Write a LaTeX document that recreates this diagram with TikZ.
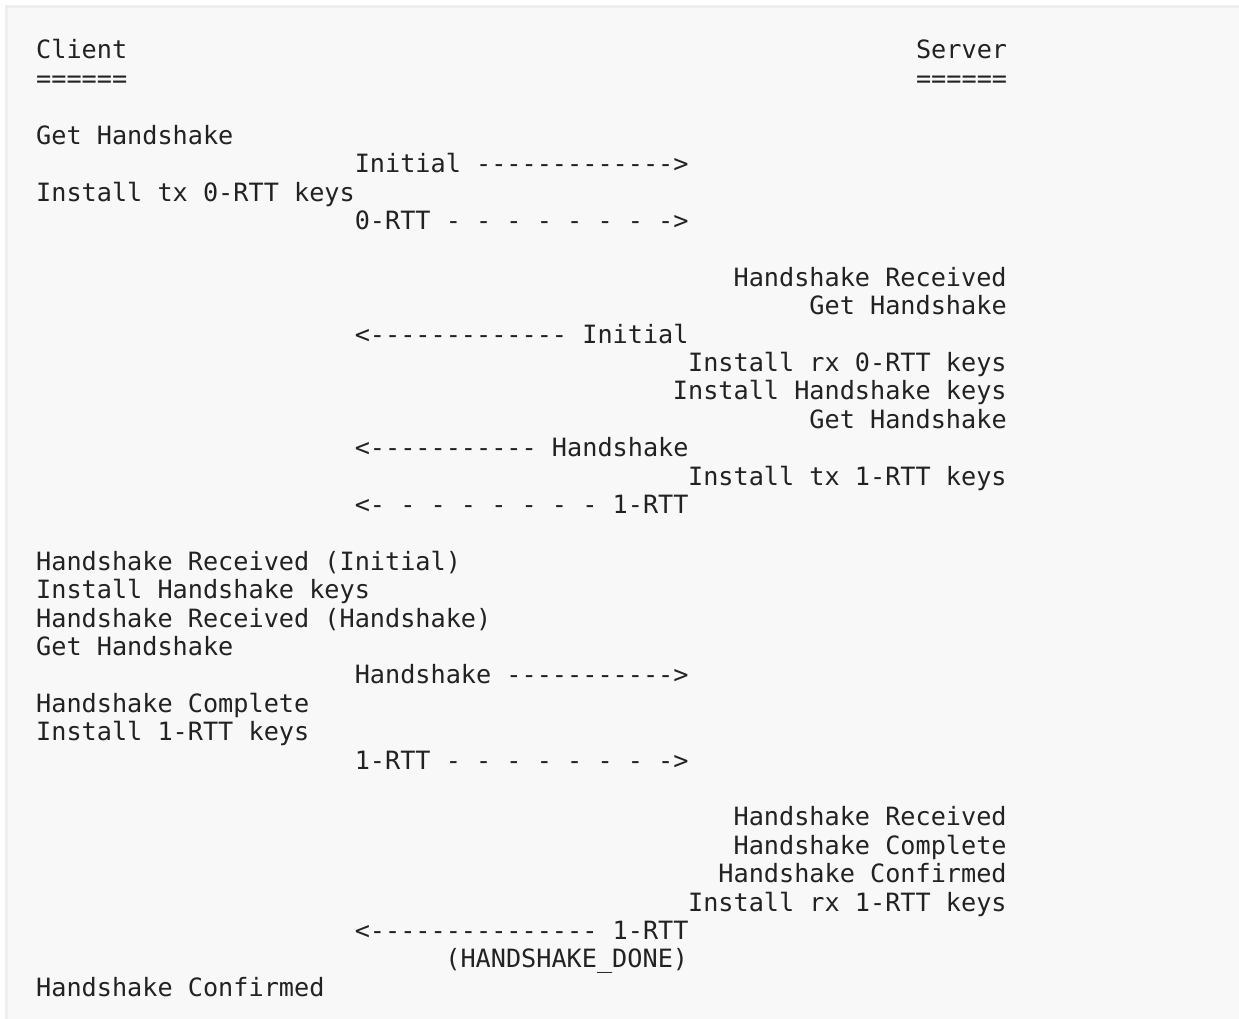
\documentclass[tikz,border=0pt]{standalone}
\usepackage{fontspec}
\setmonofont{DejaVu Sans Mono}

\definecolor{codebg}{HTML}{F8F8F8}
\definecolor{codeedge}{HTML}{EEEEEE}
\definecolor{codeink}{HTML}{222222}

\tikzset{
  msg/.style={inner sep=0pt, text=codeink, font=\ttfamily\fontsize{25.2}{28.4}\selectfont},
}

\begin{document}
\begin{tikzpicture}[x=1pt,y=-1pt]

\def \cw {15.17} % width of one column
\def \lh {28.4}  % height of one line

\useasboundingbox (0,0) rectangle (1239,1019);
\fill[white] (0,0) rectangle (1239,1019);
\fill[codeedge] (5,5) rectangle (1239,1019);
\fill[codebg] (8,8) rectangle (1239,1019);

% client side and messages: line / column / text
\foreach \row/\col/\txt in {
  0/0/Client, 0/58/Server, 1/0/======, 1/58/======,
  3/0/Get Handshake,
  4/21/Initial ------------->,
  5/0/Install tx 0-RTT keys,
  6/21/0-RTT - - - - - - - ->,
  10/21/<------------- Initial,
  14/21/<----------- Handshake,
  16/21/<- - - - - - - - 1-RTT,
  18/0/Handshake Received (Initial),
  19/0/Install Handshake keys,
  20/0/Handshake Received (Handshake),
  21/0/Get Handshake,
  22/21/Handshake ----------->,
  23/0/Handshake Complete,
  24/0/Install 1-RTT keys,
  25/21/1-RTT - - - - - - - ->,
  31/21/<--------------- 1-RTT,
  33/0/Handshake Confirmed}
{
  \node[msg, anchor=base west] (w\row c\col) at ({36+\col*\cw},{59+\row*\lh}) {\txt};
}

% server side, flush right: line / end column / text
\foreach \row/\col/\txt in {
  8/64/Handshake Received,
  9/64/Get Handshake,
  11/64/Install rx 0-RTT keys,
  12/64/Install Handshake keys,
  13/64/Get Handshake,
  15/64/Install tx 1-RTT keys,
  27/64/Handshake Received,
  28/64/Handshake Complete,
  29/64/Handshake Confirmed,
  30/64/Install rx 1-RTT keys,
  32/43/(HANDSHAKE\_DONE)}
{
  \node[msg, anchor=base east] (e\row) at ({36+\col*\cw},{59+\row*\lh}) {\txt};
}
\end{tikzpicture}
\end{document}
